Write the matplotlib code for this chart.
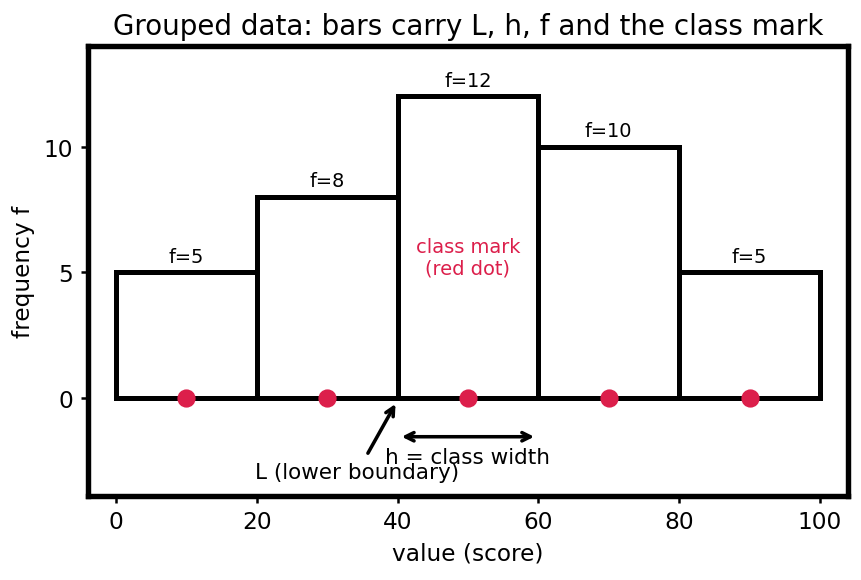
import matplotlib
matplotlib.use("Agg")
import matplotlib.pyplot as plt

lower = [0, 20, 40, 60, 80]
width = 20
freq = [5, 8, 12, 10, 5]
marks = [10, 30, 50, 70, 90]

red = "#DC1F4B"

fig, ax = plt.subplots(figsize=(5.74, 3.873), dpi=150)
fig.subplots_adjust(left=0.102, right=0.985, bottom=0.145, top=0.919)

ax.bar(lower, freq, width=width, align="edge", facecolor="white",
       edgecolor="black", linewidth=2.4)
for l, f in zip(lower, freq):
    ax.text(l + width / 2, f + 0.25, f"f={f}", ha="center", va="bottom", fontsize=9.3)

ax.scatter(marks, [0] * len(marks), s=60, color=red, zorder=5)
ax.text(50, 5.6, "class mark\n(red dot)", color=red, ha="center", va="center", fontsize=9.3)

ax.annotate("", xy=(40, -0.1), xytext=(35.5, -2.35),
            arrowprops=dict(arrowstyle="->", color="black", lw=1.7))
ax.text(34.3, -2.95, "L (lower boundary)", ha="center", va="center", fontsize=10.3)

ax.annotate("", xy=(60, -1.55), xytext=(40, -1.55),
            arrowprops=dict(arrowstyle="<->", color="black", lw=1.7))
ax.text(50, -2.35, "h = class width", ha="center", va="center", fontsize=10.3)

ax.set_xlim(-4, 104)
ax.set_ylim(-3.9, 14)
ax.set_yticks([0, 5, 10])
ax.set_xticks([0, 20, 40, 60, 80, 100])
ax.set_xlabel("value (score)", fontsize=11.2)
ax.set_ylabel("frequency f", fontsize=11.2)
ax.set_title("Grouped data: bars carry L, h, f and the class mark", fontsize=13.3)
ax.tick_params(labelsize=11.2, width=1.2)
for s in ax.spines.values():
    s.set_linewidth(2.6)

fig.savefig("out.png", dpi=150)
